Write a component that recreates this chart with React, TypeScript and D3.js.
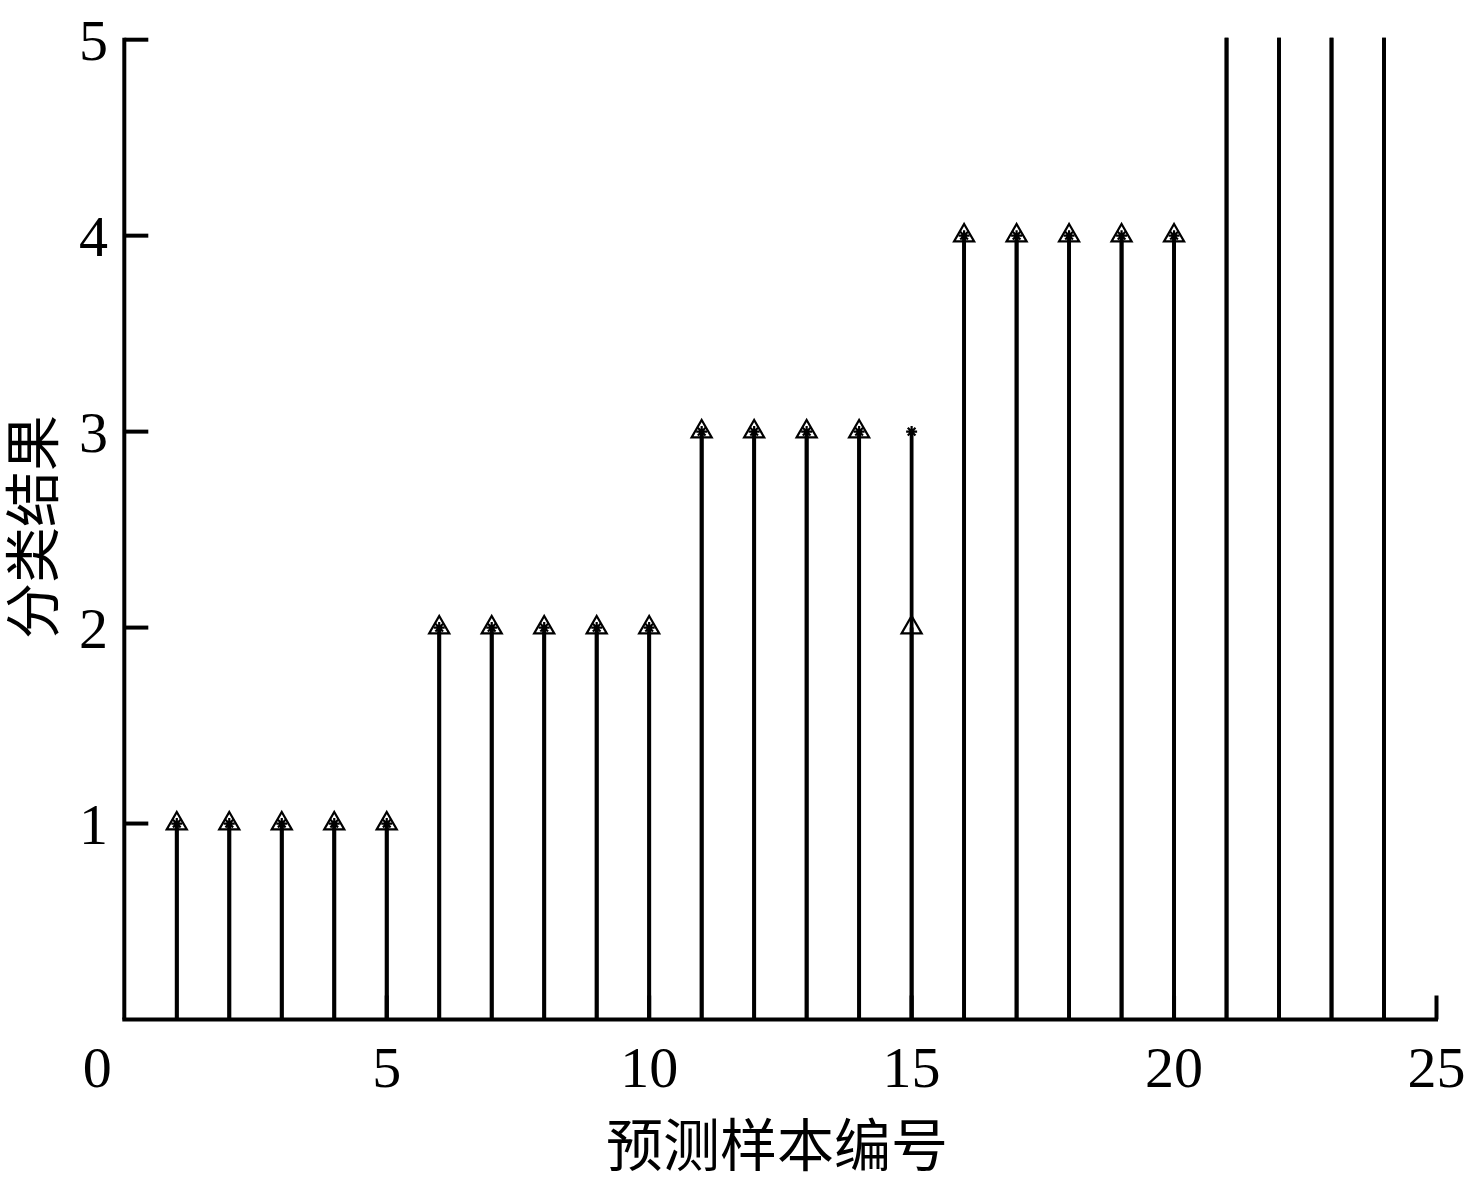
import React from "react";
import * as d3 from "d3";

const sampleIds = [1, 2, 3, 4, 5, 6, 7, 8, 9, 10, 11, 12, 13, 14, 15, 16, 17, 18, 19, 20, 21, 22, 23, 24];
const actualClass = [1, 1, 1, 1, 1, 2, 2, 2, 2, 2, 3, 3, 3, 3, 2, 4, 4, 4, 4, 4, 6, 6, 6, 6];
const predictedClass = [1, 1, 1, 1, 1, 2, 2, 2, 2, 2, 3, 3, 3, 3, 3, 4, 4, 4, 4, 4, 6, 6, 6, 6];
const xTicks = [0, 5, 10, 15, 20, 25];
const yTicks = [1, 2, 3, 4, 5];
const xLabel = "预测样本编号";
const yLabel = "分类结果";

const W = 1466;
const H = 1183;
const left = 124.3;
const right = 1436.5;
const top = 39.7;
const bottom = 1019.5;

const serif = '"Liberation Serif", "Times New Roman", serif';
const cjk = '"Noto Sans CJK SC", "Noto Serif CJK SC", sans-serif';

export default function App() {
  const x = d3.scaleLinear().domain([0, 25]).range([left, right]);
  const y = d3.scaleLinear().domain([0, 5]).range([bottom, top]);
  const tri = d3.symbol().type(d3.symbolTriangle).size(175)() as string;
  const ast = (r: number) =>
    `M${-r},0L${r},0M0,${-r}L0,${r}M${-r * 0.7},${-r * 0.7}L${r * 0.7},${r * 0.7}M${-r * 0.7},${r * 0.7}L${r * 0.7},${-r * 0.7}`;

  return (
    <svg width={W} height={H} style={{ position: "absolute", left: 0, top: 0, background: "#fff" }}>
      <defs>
        <clipPath id="plotClip">
          <rect x={left - 2} y={top - 2} width={right - left + 4} height={bottom - top + 4} />
        </clipPath>
      </defs>
      <g clipPath="url(#plotClip)">
        {sampleIds.map((id, i) => (
          <line key={"sa" + id} x1={x(id)} x2={x(id)} y1={y(0)} y2={y(actualClass[i])} stroke="#000" strokeWidth={3.8} />
        ))}
        {sampleIds.map((id, i) => (
          <line key={"sp" + id} x1={x(id)} x2={x(id)} y1={y(0)} y2={y(predictedClass[i])} stroke="#000" strokeWidth={3.8} />
        ))}
        {sampleIds.map((id, i) => (
          <path key={"ta" + id} d={tri} transform={`translate(${x(id)},${y(actualClass[i])})`} fill="none" stroke="#000" strokeWidth={2.2} />
        ))}
        {sampleIds.map((id, i) => (
          <path key={"ap" + id} d={ast(5.5)} transform={`translate(${x(id)},${y(predictedClass[i])})`} fill="none" stroke="#000" strokeWidth={2.2} />
        ))}
      </g>
      {/* axes */}
      <line x1={left} x2={left} y1={top - 2} y2={bottom} stroke="#000" strokeWidth={4} />
      <line x1={left - 2} x2={right + 1.5} y1={bottom} y2={bottom} stroke="#000" strokeWidth={4} />
      {yTicks.map((t) => (
        <g key={"yt" + t}>
          <line x1={left} x2={left + 24} y1={y(t)} y2={y(t)} stroke="#000" strokeWidth={4} />
          <text x={108} y={y(t)} dy="0.35em" textAnchor="end" fontFamily={serif} fontSize={58}>
            {t}
          </text>
        </g>
      ))}
      {xTicks.map((t) => (
        <g key={"xt" + t}>
          {t > 0 && <line x1={x(t)} x2={x(t)} y1={bottom} y2={bottom - 24} stroke="#000" strokeWidth={4} />}
          <text x={x(t)} dx={t === 0 ? -27 : 0} y={1087} textAnchor="middle" fontFamily={serif} fontSize={58}>
            {t}
          </text>
        </g>
      ))}
      <text x={777} y={1146} dy="0.35em" textAnchor="middle" fontFamily={cjk} fontSize={57}>
        {xLabel}
      </text>
      <text transform={`translate(33,527) rotate(-90)`} dy="0.35em" textAnchor="middle" fontFamily={cjk} fontSize={56}>
        {yLabel}
      </text>
    </svg>
  );
}
